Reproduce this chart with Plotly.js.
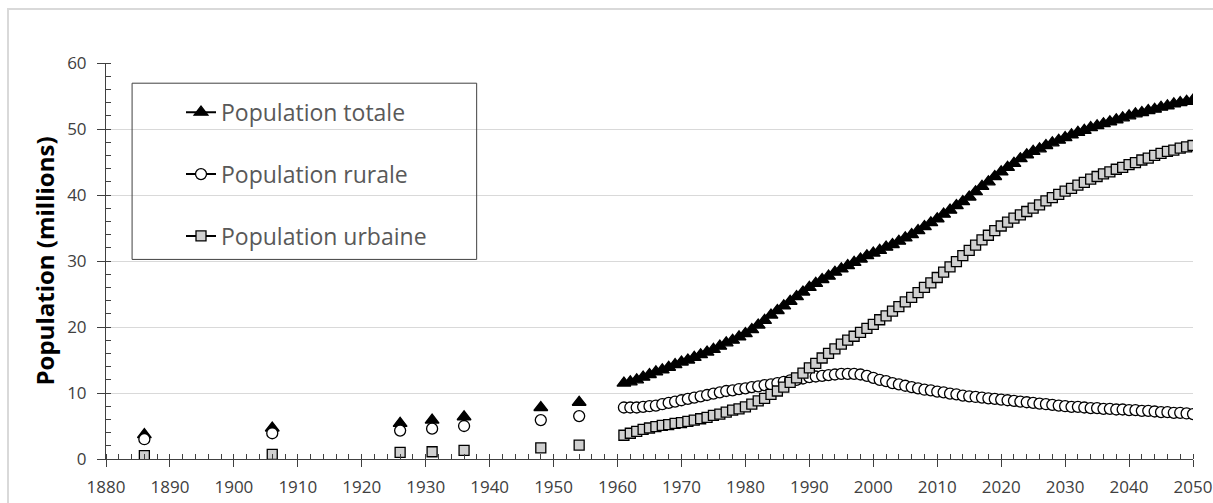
<!DOCTYPE html>
<html>
<head>
<meta charset="utf-8">
<script src="https://cdn.plot.ly/plotly-3.0.1.min.js"></script>
<style>
  html, body { margin: 0; padding: 0; background: #ffffff; }
  #wrap { position: relative; width: 1213px; height: 503px; overflow: hidden; }
  #chart { position: absolute; left: 0; top: 0; width: 1213px; height: 503px; }
  #frame { position: absolute; left: 7px; top: 8px; width: 1300px; height: 600px;
           border: 2px solid #d9d9d9; box-sizing: border-box; pointer-events: none; }
</style>
</head>
<body>
<div id="wrap">
  <div id="chart"></div>
  <div id="frame"></div>
</div>
<script>
// ---- Data (millions) ----
const seriesNames = ["Population totale", "Population rurale", "Population urbaine"];

// Census years (isolated points)
const censusYears = [1886, 1906, 1926, 1931, 1936, 1948, 1954];
const censusTotal = [3.7, 4.7, 5.4, 5.9, 6.4, 7.8, 8.6];
const censusRural = [3.0, 3.9, 4.3, 4.6, 5.0, 5.9, 6.5];
const censusUrban = [0.5, 0.7, 1.0, 1.1, 1.3, 1.7, 2.1];

// Annual years 1961-2050
const annualYears = [
  1961,1962,1963,1964,1965,1966,1967,1968,1969,1970,
  1971,1972,1973,1974,1975,1976,1977,1978,1979,1980,
  1981,1982,1983,1984,1985,1986,1987,1988,1989,1990,
  1991,1992,1993,1994,1995,1996,1997,1998,1999,2000,
  2001,2002,2003,2004,2005,2006,2007,2008,2009,2010,
  2011,2012,2013,2014,2015,2016,2017,2018,2019,2020,
  2021,2022,2023,2024,2025,2026,2027,2028,2029,2030,
  2031,2032,2033,2034,2035,2036,2037,2038,2039,2040,
  2041,2042,2043,2044,2045,2046,2047,2048,2049,2050
];
const annualTotal = [
  11.5,11.7,12.0,12.4,12.8,13.2,13.5,13.9,14.3,14.7,
  15.0,15.4,15.8,16.2,16.6,17.1,17.6,18.0,18.5,19.0,
  19.6,20.3,21.0,21.8,22.5,23.2,23.9,24.6,25.3,26.0,
  26.6,27.2,27.7,28.3,28.8,29.3,29.8,30.3,30.8,31.2,
  31.6,32.1,32.5,33.0,33.5,34.0,34.6,35.2,35.8,36.4,
  37.1,37.7,38.4,39.0,39.7,40.5,41.3,42.0,42.8,43.5,
  44.2,44.8,45.5,46.1,46.6,47.0,47.5,47.9,48.3,48.7,
  49.1,49.5,49.8,50.2,50.5,50.8,51.1,51.4,51.7,52.0,
  52.3,52.5,52.8,53.0,53.3,53.5,53.8,54.0,54.2,54.4
];
const annualRural = [
  7.8,7.8,7.8,7.9,8.0,8.1,8.3,8.5,8.7,8.9,
  9.1,9.3,9.5,9.7,9.9,10.1,10.3,10.4,10.6,10.7,
  10.9,11.0,11.2,11.3,11.5,11.7,11.9,12.0,12.2,12.4,
  12.5,12.6,12.7,12.8,12.9,12.9,12.9,12.8,12.6,12.3,
  12.0,11.8,11.5,11.3,11.1,10.9,10.7,10.5,10.4,10.2,
  10.1,9.9,9.8,9.6,9.5,9.4,9.3,9.2,9.1,9.0,
  8.9,8.8,8.7,8.6,8.5,8.4,8.3,8.2,8.1,8.0,
  7.9,7.9,7.8,7.7,7.7,7.6,7.6,7.5,7.5,7.4,
  7.4,7.3,7.3,7.2,7.1,7.1,7.0,7.0,6.9,6.8
];
const annualUrban = [
  3.6,3.9,4.2,4.5,4.7,4.9,5.1,5.2,5.4,5.5,
  5.7,5.9,6.1,6.3,6.6,6.8,7.1,7.4,7.6,7.9,
  8.3,8.8,9.2,9.8,10.3,10.9,11.6,12.3,13.0,13.8,
  14.5,15.3,16.0,16.7,17.4,18.0,18.6,19.2,19.8,20.4,
  21.1,21.7,22.4,23.1,23.8,24.5,25.2,26.0,26.7,27.5,
  28.3,29.1,29.9,30.8,31.6,32.4,33.2,33.9,34.6,35.3,
  35.9,36.5,37.0,37.5,38.0,38.5,39.1,39.6,40.1,40.6,
  41.0,41.5,41.9,42.4,42.8,43.2,43.5,43.9,44.2,44.6,
  44.9,45.3,45.6,46.0,46.3,46.6,46.8,47.1,47.3,47.5
];

// ---- Styles ----
const styles = [
  { symbol: "triangle-up", size: 12, color: "#000000" },
  { symbol: "circle",      size: 11, color: "#ffffff" },
  { symbol: "square",      size: 10, color: "#d0d0d0" }
];
const census = [censusTotal, censusRural, censusUrban];
const annual = [annualTotal, annualRural, annualUrban];

const traces = [];
for (let i = 0; i < 3; i++) {
  const mk = { symbol: styles[i].symbol, size: styles[i].size, color: styles[i].color,
               line: { color: "#000000", width: 1.3 } };
  traces.push({
    type: "scatter", mode: "markers", x: censusYears, y: census[i],
    marker: mk, showlegend: false, legendgroup: "g" + i, hoverinfo: "x+y"
  });
  traces.push({
    type: "scatter", mode: "lines+markers", x: annualYears, y: annual[i],
    name: seriesNames[i], legendgroup: "g" + i,
    line: { color: "#000000", width: 2 }, marker: mk
  });
}

const axisFont = { family: "Open Sans, sans-serif", size: 17, color: "#404040" };

const layout = {
  width: 1213, height: 503,
  margin: { l: 106, r: 20, t: 63, b: 44, pad: 0 },
  paper_bgcolor: "rgba(0,0,0,0)", plot_bgcolor: "rgba(0,0,0,0)",
  showlegend: true,
  legend: {
    x: 0.069, y: 0.93, xanchor: "left", yanchor: "top",
    bgcolor: "rgba(0,0,0,0)", borderwidth: 0,
    font: { family: "Open Sans, sans-serif", size: 23, color: "#595959" },
    tracegroupgap: 29, itemwidth: 30
  },
  xaxis: {
    range: [1880, 2050], dtick: 10, tick0: 1880,
    showgrid: false, zeroline: false,
    showline: true, linecolor: "#404040", linewidth: 1,
    ticks: "outside", ticklen: 7, tickcolor: "#404040", tickwidth: 1,
    ticklabelstandoff: 6,
    minor: { dtick: 2, ticks: "inside", ticklen: 5, tickcolor: "#404040", tickwidth: 1, showgrid: false },
    tickfont: axisFont, automargin: false
  },
  yaxis: {
    range: [0, 60], dtick: 10,
    showgrid: true, gridcolor: "#d9d9d9", gridwidth: 1, zeroline: false,
    showline: true, linecolor: "#404040", linewidth: 1,
    ticks: "outside", ticklen: 8, tickcolor: "#404040", tickwidth: 1,
    ticklabelstandoff: 7,
    minor: { dtick: 2, ticks: "inside", ticklen: 5, tickcolor: "#404040", tickwidth: 1, showgrid: false },
    tickfont: axisFont, automargin: false,
    title: { text: "Population (millions)", standoff: 5,
             font: { family: "Open Sans, sans-serif", size: 24, color: "#000000", weight: "bold" } }
  },
  shapes: [{
    type: "rect", xref: "paper", yref: "paper",
    x0: 0.024, x1: 0.341, y0: 0.504, y1: 0.949,
    line: { color: "#404040", width: 1 }, fillcolor: "rgba(0,0,0,0)", layer: "above"
  }]
};

Plotly.newPlot("chart", traces, layout, { displayModeBar: false, staticPlot: true });
</script>
</body>
</html>
